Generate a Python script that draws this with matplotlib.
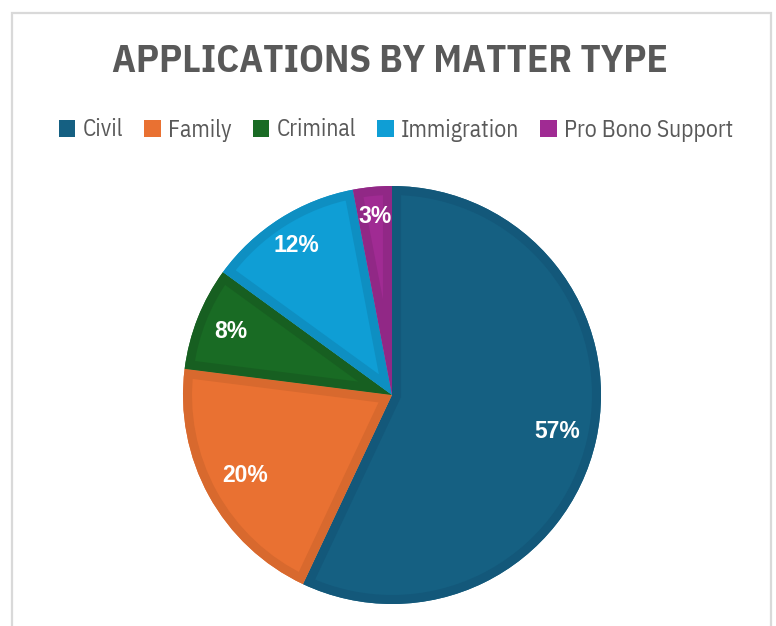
import matplotlib
matplotlib.use("Agg")
import matplotlib.pyplot as plt
from matplotlib.patches import Rectangle, Wedge
import numpy as np

categories = ["Civil", "Family", "Criminal", "Immigration", "Pro Bono Support"]
values = [57, 20, 8, 12, 3]
labels = ["57%", "20%", "8%", "12%", "3%"]

fill_colors = ["#156082", "#E97132", "#196B24", "#0F9ED5", "#A02B93"]
edge_colors = ["#13587A", "#D8692E", "#175F21", "#0E8FC2", "#912886"]
label_radius = [0.81, 0.80, 0.83, 0.85, 0.86]

COND = ["IBM Plex Sans Condensed", "Roboto Condensed", "DejaVu Sans"]

W, H = 776, 626
fig = plt.figure(figsize=(W / 100, H / 100), dpi=100)
fig.patch.set_facecolor("white")

# chart frame
fig.patches.append(Rectangle((12 / W, -0.05), (771 - 12) / W, (H - 13) / H + 0.05,
                             transform=fig.transFigure, fill=False,
                             edgecolor="#D9D9D9", linewidth=1.6))

cx, cy, r = 392, 395, 209
ax = fig.add_axes([(cx - r) / W, (H - cy - r) / H, 2 * r / W, 2 * r / H])
wedges, _ = ax.pie(values, colors=fill_colors, startangle=90, counterclock=False,
                   radius=1.0, wedgeprops=dict(linewidth=0))
ax.set_xlim(-1, 1)
ax.set_ylim(-1, 1)
ax.set_aspect("equal")
ax.axis("off")

# inner stroke, clipped to each wedge
for w, ec in zip(wedges, edge_colors):
    s = Wedge(w.center, w.r, w.theta1, w.theta2, facecolor="none",
              edgecolor=ec, linewidth=13)
    ax.add_patch(s)
    s.set_clip_path(w)

# labels
for w, lab, lr in zip(wedges, labels, label_radius):
    ang = np.deg2rad((w.theta1 + w.theta2) / 2)
    ax.text(lr * np.cos(ang), lr * np.sin(ang), lab, ha="center", va="center",
            color="white", fontsize=16.5, fontweight="bold",
            family=["Liberation Sans", "DejaVu Sans"])

fig.text(390 / W, 1 - 61 / H, "APPLICATIONS BY MATTER TYPE", ha="center", va="center",
         fontsize=28, fontweight="bold", color="#595959", family=COND)

leg = fig.legend(wedges, categories, loc="center", bbox_to_anchor=(396 / W, 1 - 130 / H),
                 ncol=5, frameon=False, handlelength=0.7, handleheight=0.7,
                 handletextpad=0.3, columnspacing=0.9,
                 prop=dict(family=COND, size=17))
for t in leg.get_texts():
    t.set_color("#595959")

fig.savefig("out.png", dpi=100, facecolor="white")
